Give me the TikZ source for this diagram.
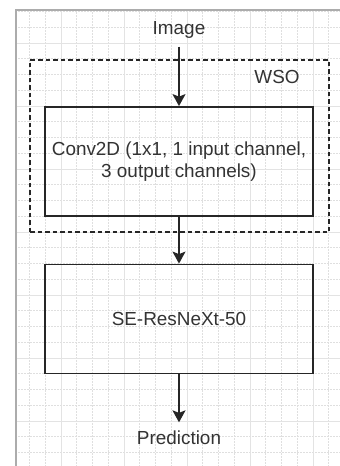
\documentclass[tikz,border=0pt]{standalone}
\usepackage{fontspec}
\setmainfont{Liberation Sans}
\usepackage{tikz}
\usetikzlibrary{arrows.meta}

\begin{document}
\begin{tikzpicture}[x=1pt, y=-1pt,
	every node/.style={font=\fontsize{18.9}{22.7}\selectfont, text=black!80},
	block/.style={draw=black!85, line width=1.8pt, minimum width=268pt, minimum height=109pt, align=center, inner sep=0pt},
	group/.style={draw=black!85, line width=1.8pt, dash pattern=on 4.5pt off 3pt, minimum width=299pt, minimum height=172pt, inner sep=0pt},
	lbl/.style={inner xsep=2pt, inner ysep=8pt},
	flow/.style={-{Stealth[length=12pt, width=13pt, inset=2.5pt]}, line width=1.6pt, black!85},
	minorgrid/.style={gray!25, line width=0.6pt, dash pattern=on 1.5pt off 1.5pt},
	majorgrid/.style={gray!22, line width=0.8pt}]
\useasboundingbox (0,0) rectangle (340,466);
\begin{scope}
	\clip (16,10) rectangle (340,466);
	\foreach \i in {0,...,22}
		\draw[minorgrid] (13.75+15.75*\i,0) -- (13.75+15.75*\i,466);
	\foreach \i in {0,...,29}
		\draw[minorgrid] (0,11.5+15.75*\i) -- (340,11.5+15.75*\i);
	\foreach \j in {0,...,5}
		\draw[majorgrid] (-2+63*\j,0) -- (-2+63*\j,466);
	\foreach \j in {0,...,6}
		\draw[majorgrid] (0,43+63*\j) -- (340,43+63*\j);
\end{scope}
\draw[gray!65, line width=1.5pt] (16,466) -- (16,10) -- (340,10);

\node[group] (wso) at (179.5,146) {};
\node (wsolbl) at (277,77) {WSO};
\node[lbl] (img) at (179,30) {Image};
\node[block] (conv) at (179,161.5) {Conv2D (1x1, 1 input channel,\\3 output channels)};
\node[block] (se) at (179,319) {SE-ResNeXt-50};
\node[lbl] (pred) at (179,437.5) {Prediction};

\path[flow]
(img) edge (conv)
(conv) edge (se)
(se) edge (pred)
;
\end{tikzpicture}
\end{document}
